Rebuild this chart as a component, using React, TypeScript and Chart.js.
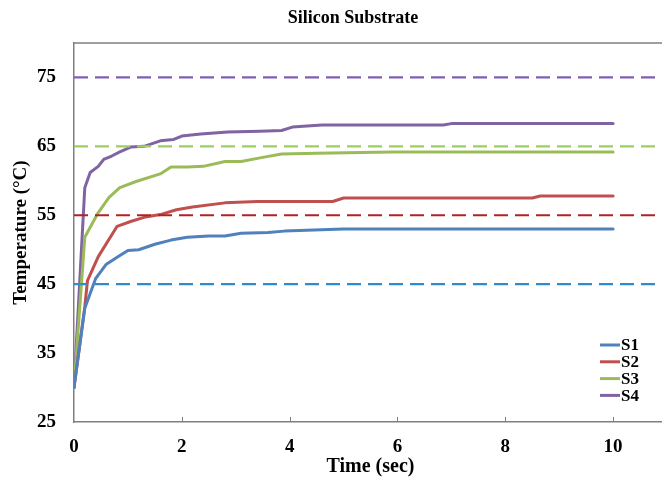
import React, { useEffect, useRef } from "react";
import { Chart, registerables } from "chart.js";

Chart.register(...registerables);

const chartTitle = "Silicon Substrate";
const xTitle = "Time (sec)";
const yTitle = "Temperature (°C)";

const seriesNames = ["S1", "S2", "S3", "S4"];
const seriesColors = ["#4F81BD", "#C0504D", "#9BBB59", "#8064A2"];

const timeS1 = [0, 0.2, 0.4, 0.6, 0.8, 1.0, 1.2, 1.5, 1.8, 2.1, 2.5, 2.8, 3.1, 3.6, 3.9, 5.0, 10];
const tempS1 = [30, 41.5, 45.8, 47.9, 48.9, 49.9, 50, 50.8, 51.4, 51.8, 52, 52, 52.4, 52.5, 52.7, 53, 53];

const timeS2 = [0, 0.2, 0.25, 0.45, 0.8, 1.05, 1.3, 1.6, 1.9, 2.2, 2.8, 3.4, 4.8, 5.0, 8.5, 8.65, 10];
const tempS2 = [30, 41.7, 45.5, 49, 53.4, 54.1, 54.7, 55.1, 55.8, 56.2, 56.8, 57, 57, 57.5, 57.5, 57.8, 57.8];

const timeS3 = [0, 0.2, 0.45, 0.65, 0.85, 1.15, 1.6, 1.8, 2.1, 2.4, 2.8, 3.1, 3.5, 3.85, 4.5, 5.9, 10];
const tempS3 = [30, 51.8, 55.4, 57.6, 59, 59.9, 61, 62, 62, 62.1, 62.8, 62.8, 63.4, 63.9, 64, 64.2, 64.2];

const timeS4 = [0, 0.2, 0.3, 0.45, 0.55, 0.7, 0.85, 1.05, 1.3, 1.6, 1.85, 2.0, 2.35, 2.85, 3.45, 3.85, 4.05, 4.6, 6.85, 7.0, 10];
const tempS4 = [30, 59, 61.2, 62.1, 63.1, 63.6, 64.2, 64.9, 65, 65.8, 66, 66.5, 66.8, 67.1, 67.2, 67.3, 67.8, 68.1, 68.1, 68.3, 68.3];

const refLevels = [75, 65, 55, 45];
const refColors = ["#7F5FB5", "#9BD060", "#B22222", "#2F8AD0"];

const xTicks = [0, 2, 4, 6, 8, 10];
const yTicks = [25, 35, 45, 55, 65, 75];
const xMin = 0;
const xMax = 11;
const yMin = 25;
const yMax = 80;

const FONT = '"Liberation Serif", "Times New Roman", serif';
const AXIS_COLOR = "#7f7f7f";

const times = [timeS1, timeS2, timeS3, timeS4];
const temps = [tempS1, tempS2, tempS3, tempS4];

const overlayPlugin = {
  id: "overlay",
  afterDraw(chart: any) {
    const { ctx, chartArea, scales } = chart;
    ctx.save();
    // top border
    ctx.strokeStyle = AXIS_COLOR;
    ctx.lineWidth = 1.5;
    ctx.beginPath();
    ctx.moveTo(chartArea.left, chartArea.top);
    ctx.lineTo(chart.width, chartArea.top);
    ctx.stroke();
    // inside tick marks
    ctx.lineWidth = 1;
    xTicks.forEach((v) => {
      if (v === xMin) return;
      const px = Math.round(scales.x.getPixelForValue(v)) + 0.5;
      ctx.beginPath();
      ctx.moveTo(px, chartArea.bottom);
      ctx.lineTo(px, chartArea.bottom - 5);
      ctx.stroke();
    });
    // title
    ctx.fillStyle = "#000";
    ctx.font = `bold 18px ${FONT}`;
    ctx.textAlign = "center";
    ctx.textBaseline = "middle";
    ctx.fillText(chartTitle, 353, 18);
    // legend
    ctx.font = `bold 17px ${FONT}`;
    ctx.textAlign = "left";
    seriesNames.forEach((name, i) => {
      const y = 345 + i * 16.8;
      ctx.strokeStyle = seriesColors[i];
      ctx.lineWidth = 3;
      ctx.beginPath();
      ctx.moveTo(600, y);
      ctx.lineTo(620, y);
      ctx.stroke();
      ctx.fillStyle = "#000";
      ctx.fillText(name, 621, y + 1);
    });
    ctx.restore();
  },
};

export default function App() {
  const canvasRef = useRef<HTMLCanvasElement | null>(null);

  useEffect(() => {
    if (!canvasRef.current) return;
    const seriesSets = seriesNames.map((name, i) => ({
      label: name,
      data: times[i].map((t, j) => ({ x: t, y: temps[i][j] })),
      borderColor: seriesColors[i],
      backgroundColor: seriesColors[i],
      borderWidth: 3,
      pointRadius: 0,
      tension: 0,
      fill: false,
      borderJoinStyle: "round" as const,
      borderCapStyle: "round" as const,
    }));
    const refSets = refLevels.map((lvl, i) => ({
      label: `ref${lvl}`,
      data: [
        { x: xMin, y: lvl },
        { x: xMax, y: lvl },
      ],
      borderColor: refColors[i],
      backgroundColor: refColors[i],
      borderWidth: 2.2,
      borderDash: [14, 7],
      pointRadius: 0,
      tension: 0,
      fill: false,
    }));

    const chart = new Chart(canvasRef.current, {
      type: "line",
      data: { datasets: [...refSets, ...seriesSets] as any },
      plugins: [overlayPlugin],
      options: {
        animation: false,
        responsive: false,
        devicePixelRatio: 1,
        parsing: true,
        layout: { padding: { left: 0, right: 13, top: 43, bottom: 0 } },
        plugins: {
          legend: { display: false },
          title: { display: false },
          tooltip: { enabled: false },
        },
        scales: {
          x: {
            type: "linear",
            min: xMin,
            max: xMax,
            grid: { display: false },
            border: { display: true, color: AXIS_COLOR, width: 1.5 },
            afterBuildTicks: (scale: any) => {
              scale.ticks = xTicks.map((v) => ({ value: v }));
            },
            afterFit: (scale: any) => {
              scale.height = 63;
            },
            ticks: {
              color: "#000",
              padding: 6,
              maxRotation: 0,
              autoSkip: false,
              font: { family: FONT, size: 19, weight: "bold" },
              callback: (v: any) => String(v),
            },
            title: {
              display: true,
              text: xTitle,
              color: "#000",
              font: { family: FONT, size: 20, weight: "bold" },
              padding: { top: 0, bottom: 6 },
            },
          },
          y: {
            type: "linear",
            min: yMin,
            max: yMax,
            grid: { display: false },
            border: { display: true, color: AXIS_COLOR, width: 1.5 },
            afterBuildTicks: (scale: any) => {
              scale.ticks = yTicks.map((v) => ({ value: v }));
            },
            afterFit: (scale: any) => {
              scale.width = 74;
            },
            ticks: {
              color: "#000",
              padding: 10,
              font: { family: FONT, size: 19, weight: "bold" },
              callback: (v: any) => String(v),
            },
            title: {
              display: true,
              text: yTitle,
              color: "#000",
              font: { family: FONT, size: 19, weight: "bold" },
              padding: { top: 10, bottom: 0 },
            },
          },
        },
      } as any,
    });
    return () => chart.destroy();
  }, []);

  return (
    <div
      style={{
        position: "fixed",
        left: 0,
        top: 0,
        width: 662,
        height: 485,
        overflow: "hidden",
        background: "#fff",
      }}
    >
      <canvas ref={canvasRef} width={680} height={485} style={{ display: "block" }} />
    </div>
  );
}
